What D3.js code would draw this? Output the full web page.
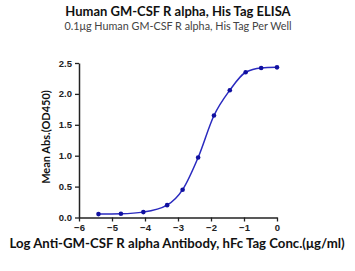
<!doctype html>
<html>
  <head>
    <script src="https://cdnjs.cloudflare.com/ajax/libs/d3/7.8.5/d3.min.js"></script>
  <style>
    body { margin: 0; background: #fff; }
    svg { font-family: Lato, "Noto Sans", sans-serif; }
    .tick > text { font-size: 9.5px; font-weight: bold; fill: #222; }
    .tick > line { stroke: #222; stroke-width: 1.3; }
    path.domain { stroke: #222; stroke-width: 1.5; }
  </style>
  </head>
  <body>
    <svg width="355" height="271"></svg>
    <script>
      var logConc = [-5.41, -4.73, -4.05, -3.33, -2.86, -2.39, -1.91, -1.43, -0.95, -0.48, 0];
      var meanAbs = [0.055, 0.06, 0.087, 0.20, 0.45, 0.97, 1.65, 2.06, 2.35, 2.42, 2.43];
      var xTicks = [-6, -5, -4, -3, -2, -1, 0];
      var yTicks = [0, 0.5, 1.0, 1.5, 2.0, 2.5];

      var svg = d3.select("svg");
      var xScale = d3.scaleLinear().domain([-6, 0]).range([79, 277]);
      var yScale = d3.scaleLinear().domain([0, 2.5]).range([217.5, 63]);

      var xAxis = d3.axisBottom(xScale).tickValues(xTicks).tickSize(4).tickSizeOuter(0)
        .tickFormat(d3.format("d"));
      svg.append("g").attr("transform", "translate(0,217.5)").call(xAxis);

      var yAxis = d3.axisLeft(yScale).tickValues(yTicks).tickSize(4).tickSizeOuter(0)
        .tickFormat(d3.format(".1f"));
      svg.append("g").attr("transform", "translate(79,0)").call(yAxis);

      var pts = logConc.map((x, i) => [x, meanAbs[i]]);
      var line = d3.line()
        .x(d => xScale(d[0]))
        .y(d => yScale(d[1]))
        .curve(d3.curveMonotoneX);
      svg.append("path")
        .attr("d", line(pts))
        .attr("fill", "none")
        .attr("stroke", "#2a2abf")
        .attr("stroke-width", 1.5);

      svg.selectAll("circle.pt").data(pts).enter().append("circle")
        .attr("class", "pt")
        .attr("cx", d => xScale(d[0]))
        .attr("cy", d => yScale(d[1]))
        .attr("r", 2.3)
        .attr("fill", "#1010a0");

      svg.append("text").attr("x", 178).attr("y", 16).attr("text-anchor", "middle")
        .attr("font-size", 13).attr("font-weight", "bold").attr("fill", "#111")
        .text("Human GM-CSF R alpha, His Tag ELISA");
      svg.append("text").attr("x", 178).attr("y", 30).attr("text-anchor", "middle")
        .attr("font-size", 10.8).attr("fill", "#444")
        .text("0.1μg Human GM-CSF R alpha, His Tag Per Well");
      svg.append("text").attr("x", 177).attr("y", 248).attr("text-anchor", "middle")
        .attr("font-size", 13.2).attr("font-weight", "bold").attr("fill", "#111")
        .text("Log Anti-GM-CSF R alpha Antibody, hFc Tag Conc.(μg/ml)");
      svg.append("text").attr("transform", "translate(50,137) rotate(-90)")
        .attr("text-anchor", "middle")
        .attr("font-size", 11).attr("font-weight", "bold").attr("fill", "#111")
        .text("Mean Abs.(OD450)");
    </script>
  </body>
</html>
